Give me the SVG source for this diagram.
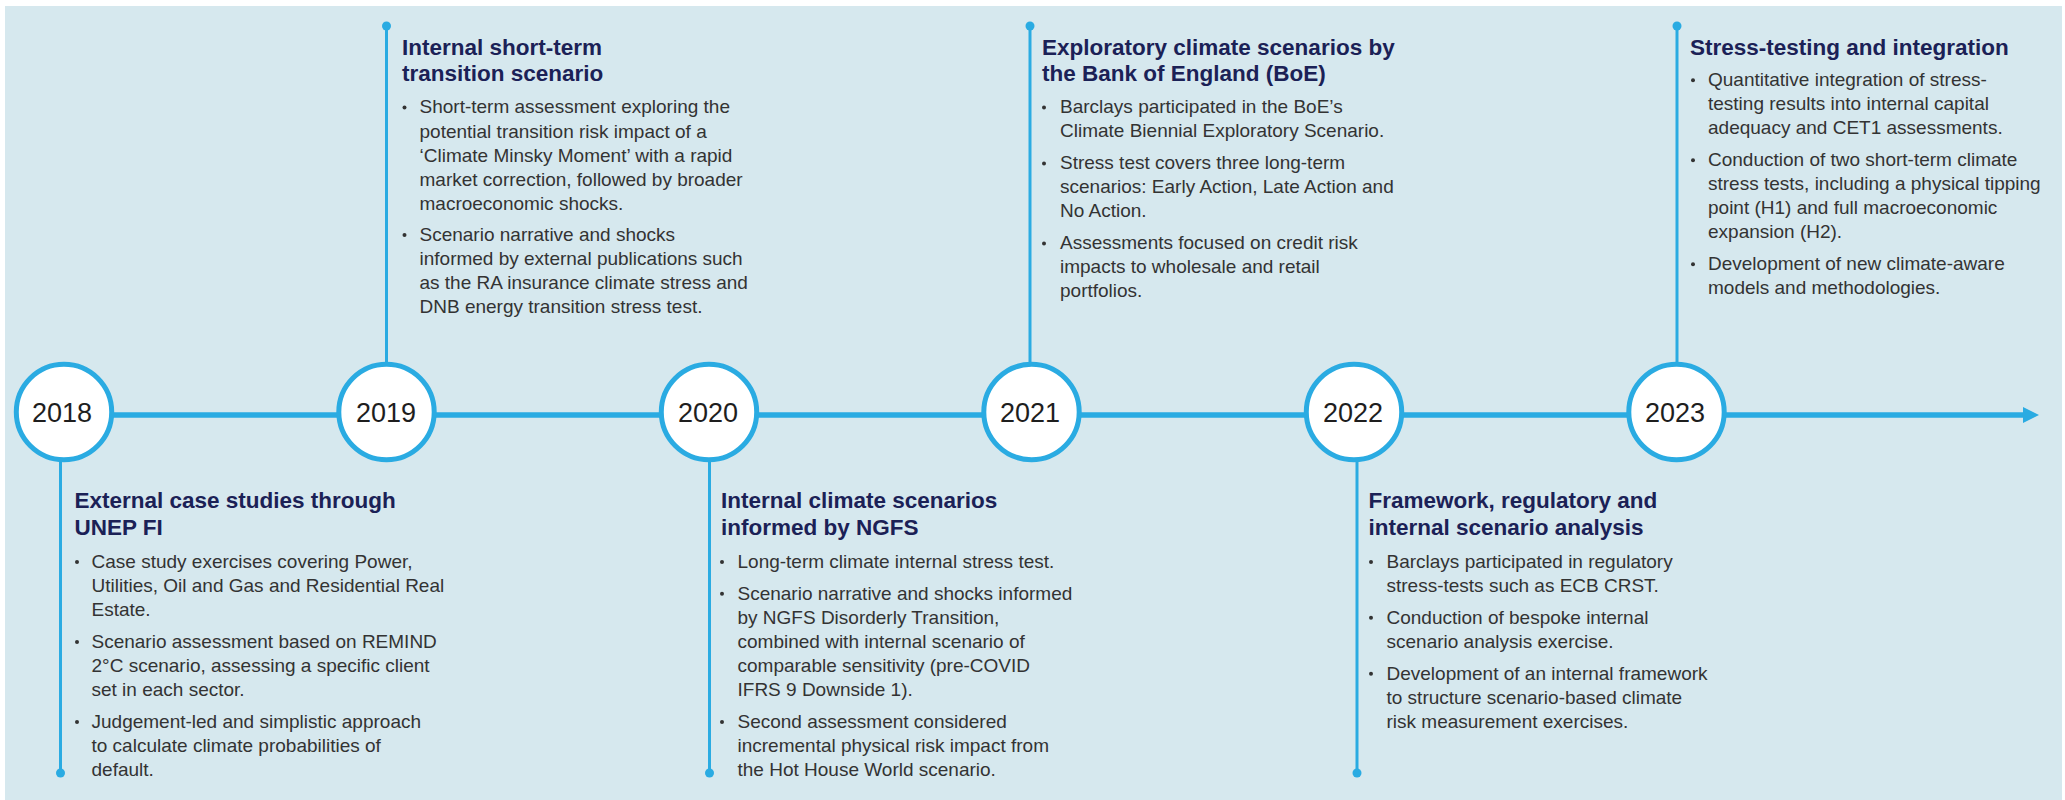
<svg xmlns="http://www.w3.org/2000/svg" width="2065" height="800" viewBox="0 0 2065 800">
<style>
.bg{fill:#d6e8ee}
.tl{stroke:#2aabe2;stroke-width:5.5;fill:none}
.vl{stroke:#2aabe2;stroke-width:3;fill:none}
.dot{fill:#2aabe2}
.yr{fill:#fff;stroke:#2aabe2;stroke-width:5}
.yt{font-family:"Liberation Sans",Arial,sans-serif;font-size:27px;fill:#1e1e1e;text-anchor:middle}
.ti{font-family:"Liberation Sans",Arial,sans-serif;font-size:22.5px;font-weight:bold;fill:#1b2156}
.bd{font-family:"Liberation Sans",Arial,sans-serif;font-size:19px;fill:#333}
.bu{fill:#333}
</style>
<rect class="bg" x="5" y="6" width="2057" height="794"/>
<g id="connectors">
<line class="tl" x1="64" y1="415" x2="2025" y2="415"/>
<polygon class="dot" points="2023,407 2039,415 2023,423"/>
<line class="vl" x1="386.5" y1="26" x2="386.5" y2="362"/>
<circle class="dot" cx="386.5" cy="26" r="4.5"/>
<line class="vl" x1="1030" y1="26" x2="1030" y2="362"/>
<circle class="dot" cx="1030" cy="26" r="4.5"/>
<line class="vl" x1="1677" y1="26" x2="1677" y2="362"/>
<circle class="dot" cx="1677" cy="26" r="4.5"/>
<line class="vl" x1="60.5" y1="462" x2="60.5" y2="773"/>
<circle class="dot" cx="60.5" cy="773" r="4.5"/>
<line class="vl" x1="709.5" y1="462" x2="709.5" y2="773"/>
<circle class="dot" cx="709.5" cy="773" r="4.5"/>
<line class="vl" x1="1357" y1="462" x2="1357" y2="773"/>
<circle class="dot" cx="1357" cy="773" r="4.5"/>
</g>
<g id="y2018"><circle class="yr" cx="64" cy="412" r="47.7"/><text class="yt" x="62" y="422">2018</text></g>
<g id="y2019"><circle class="yr" cx="386.5" cy="412" r="47.7"/><text class="yt" x="386" y="422">2019</text></g>
<g id="y2020"><circle class="yr" cx="709" cy="412" r="47.7"/><text class="yt" x="708" y="422">2020</text></g>
<g id="y2021"><circle class="yr" cx="1031.5" cy="412" r="47.7"/><text class="yt" x="1030" y="422">2021</text></g>
<g id="y2022"><circle class="yr" cx="1354" cy="412" r="47.7"/><text class="yt" x="1353" y="422">2022</text></g>
<g id="y2023"><circle class="yr" cx="1676.5" cy="412" r="47.7"/><text class="yt" x="1675" y="422">2023</text></g>

<g id="n2019">
<text class="ti"><tspan x="402" y="55">Internal short-term</tspan><tspan x="402" y="80.7">transition scenario</tspan></text>
<circle class="bu" cx="404.5" cy="107.5" r="2"/>
<circle class="bu" cx="404.5" cy="235" r="2"/>
<text class="bd"><tspan x="419.5" y="113.3">Short-term assessment exploring the</tspan><tspan x="419.5" y="137.5">potential transition risk impact of a</tspan><tspan x="419.5" y="161.5">‘Climate Minsky Moment’ with a rapid</tspan><tspan x="419.5" y="185.5">market correction, followed by broader</tspan><tspan x="419.5" y="209.5">macroeconomic shocks.</tspan><tspan x="419.5" y="241">Scenario narrative and shocks</tspan><tspan x="419.5" y="265">informed by external publications such</tspan><tspan x="419.5" y="289">as the RA insurance climate stress and</tspan><tspan x="419.5" y="313">DNB energy transition stress test.</tspan></text>
</g>

<g id="n2021">
<text class="ti"><tspan x="1042" y="55">Exploratory climate scenarios by</tspan><tspan x="1042" y="80.7">the Bank of England (BoE)</tspan></text>
<circle class="bu" cx="1044" cy="107.5" r="2"/>
<circle class="bu" cx="1044" cy="163.5" r="2"/>
<circle class="bu" cx="1044" cy="243.5" r="2"/>
<text class="bd"><tspan x="1060" y="113.3">Barclays participated in the BoE’s</tspan><tspan x="1060" y="137.3">Climate Biennial Exploratory Scenario.</tspan><tspan x="1060" y="169.3">Stress test covers three long-term</tspan><tspan x="1060" y="193.3">scenarios: Early Action, Late Action and</tspan><tspan x="1060" y="217.3">No Action.</tspan><tspan x="1060" y="249.3">Assessments focused on credit risk</tspan><tspan x="1060" y="273.3">impacts to wholesale and retail</tspan><tspan x="1060" y="297.3">portfolios.</tspan></text>
</g>

<g id="n2023">
<text class="ti"><tspan x="1690" y="55">Stress-testing and integration</tspan></text>
<circle class="bu" cx="1693" cy="80.2" r="2"/>
<circle class="bu" cx="1693" cy="160.2" r="2"/>
<circle class="bu" cx="1693" cy="264.2" r="2"/>
<text class="bd"><tspan x="1708" y="86">Quantitative integration of stress-</tspan><tspan x="1708" y="110">testing results into internal capital</tspan><tspan x="1708" y="134">adequacy and CET1 assessments.</tspan><tspan x="1708" y="166">Conduction of two short-term climate</tspan><tspan x="1708" y="190">stress tests, including a physical tipping</tspan><tspan x="1708" y="214">point (H1) and full macroeconomic</tspan><tspan x="1708" y="238">expansion (H2).</tspan><tspan x="1708" y="270">Development of new climate-aware</tspan><tspan x="1708" y="294">models and methodologies.</tspan></text>
</g>

<g id="n2018">
<text class="ti"><tspan x="74.5" y="508.3">External case studies through</tspan><tspan x="74.5" y="535">UNEP FI</tspan></text>
<circle class="bu" cx="77" cy="561.9" r="2"/>
<circle class="bu" cx="77" cy="641.9" r="2"/>
<circle class="bu" cx="77" cy="721.9" r="2"/>
<text class="bd"><tspan x="91.5" y="567.7">Case study exercises covering Power,</tspan><tspan x="91.5" y="591.7">Utilities, Oil and Gas and Residential Real</tspan><tspan x="91.5" y="615.7">Estate.</tspan><tspan x="91.5" y="647.7">Scenario assessment based on REMIND</tspan><tspan x="91.5" y="671.7">2°C scenario, assessing a specific client</tspan><tspan x="91.5" y="695.7">set in each sector.</tspan><tspan x="91.5" y="727.7">Judgement-led and simplistic approach</tspan><tspan x="91.5" y="751.7">to calculate climate probabilities of</tspan><tspan x="91.5" y="775.7">default.</tspan></text>
</g>

<g id="n2020">
<text class="ti"><tspan x="721" y="508.3">Internal climate scenarios</tspan><tspan x="721" y="535">informed by NGFS</tspan></text>
<circle class="bu" cx="722" cy="561.9" r="2"/>
<circle class="bu" cx="722" cy="593.7" r="2"/>
<circle class="bu" cx="722" cy="721.9" r="2"/>
<text class="bd"><tspan x="737.5" y="567.7">Long-term climate internal stress test.</tspan><tspan x="737.5" y="599.5">Scenario narrative and shocks informed</tspan><tspan x="737.5" y="623.5">by NGFS Disorderly Transition,</tspan><tspan x="737.5" y="647.5">combined with internal scenario of</tspan><tspan x="737.5" y="671.5">comparable sensitivity (pre-COVID</tspan><tspan x="737.5" y="695.5">IFRS 9 Downside 1).</tspan><tspan x="737.5" y="727.7">Second assessment considered</tspan><tspan x="737.5" y="751.7">incremental physical risk impact from</tspan><tspan x="737.5" y="775.7">the Hot House World scenario.</tspan></text>
</g>

<g id="n2022">
<text class="ti"><tspan x="1368.5" y="508.3">Framework, regulatory and</tspan><tspan x="1368.5" y="535">internal scenario analysis</tspan></text>
<circle class="bu" cx="1371" cy="561.9" r="2"/>
<circle class="bu" cx="1371" cy="617.7" r="2"/>
<circle class="bu" cx="1371" cy="673.7" r="2"/>
<text class="bd"><tspan x="1386.5" y="567.7">Barclays participated in regulatory</tspan><tspan x="1386.5" y="591.7">stress-tests such as ECB CRST.</tspan><tspan x="1386.5" y="623.5">Conduction of bespoke internal</tspan><tspan x="1386.5" y="647.5">scenario analysis exercise.</tspan><tspan x="1386.5" y="679.5">Development of an internal framework</tspan><tspan x="1386.5" y="703.5">to structure scenario-based climate</tspan><tspan x="1386.5" y="727.5">risk measurement exercises.</tspan></text>
</g>
</svg>
